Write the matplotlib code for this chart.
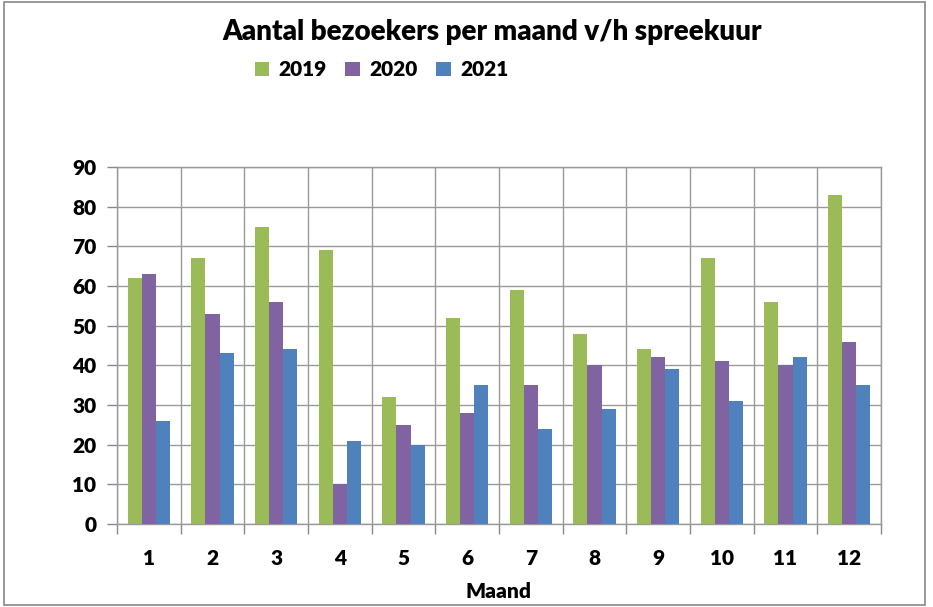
import matplotlib
matplotlib.use("Agg")
import matplotlib.pyplot as plt
import numpy as np
from matplotlib.patches import Rectangle

months = ["1", "2", "3", "4", "5", "6", "7", "8", "9", "10", "11", "12"]
y2019 = [62, 67, 75, 69, 32, 52, 59, 48, 44, 67, 56, 83]
y2020 = [63, 53, 56, 10, 25, 28, 35, 40, 42, 41, 40, 46]
y2021 = [26, 43, 44, 21, 20, 35, 24, 29, 39, 31, 42, 35]
series = [("2019", y2019, "#9BBB59"), ("2020", y2020, "#8064A2"), ("2021", y2021, "#4F81BD")]

plt.rcParams['font.family'] = ['Lato', 'DejaVu Sans']
W = 'heavy'

fig = plt.figure(figsize=(9.33, 6.07), dpi=100)
ax = fig.add_axes([117/933, 1-524/607, (881-117)/933, (524-167)/607])

x = np.arange(len(months))
w = 0.22
handles = []
for i, (name, vals, col) in enumerate(series):
    h = ax.bar(x + (i-1)*w, vals, width=w, color=col, label=name, zorder=3)
    handles.append(h)

ax.set_xlim(-0.5, len(months)-0.5)
ax.set_ylim(0, 90)
ax.set_yticks(range(0, 91, 10))
ax.set_xticks(x)
ax.set_xticklabels(months)
ax.set_xticks(np.arange(-0.5, len(months), 1), minor=True)
ax.tick_params(axis='x', which='major', length=0, pad=18, labelsize=15)
ax.tick_params(axis='x', which='minor', length=7, color='#888888', width=1)
ax.tick_params(axis='y', length=7, color='#888888', width=1, labelsize=15, pad=8)
for lab in ax.get_xticklabels() + ax.get_yticklabels():
    lab.set_fontweight(W)
ax.grid(True, which='minor', axis='x', color='#999999', lw=1, zorder=0)
ax.grid(True, which='major', axis='y', color='#999999', lw=1, zorder=0)
for s in ax.spines.values():
    s.set_color('#999999')
    s.set_linewidth(1)
ax.set_xlabel("Maand", fontsize=15, fontweight=W, labelpad=10)

fig.text(0.528, 0.947, "Aantal bezoekers per maand v/h spreekuur", ha='center', va='center',
         fontsize=20, fontweight=W)
fig.legend(handles=handles, labels=[s[0] for s in series], loc='center',
           bbox_to_anchor=(0.409, 0.885), ncol=3, frameon=False,
           handlelength=0.7, handleheight=0.7, columnspacing=0.9, handletextpad=0.45,
           prop={'weight': W, 'size': 15})

fig.patches.append(Rectangle((4/933, 2/607), 921/933, 603/607, transform=fig.transFigure,
                             fill=False, edgecolor='#888888', lw=1.2))
fig.savefig("out.png", dpi=100)
